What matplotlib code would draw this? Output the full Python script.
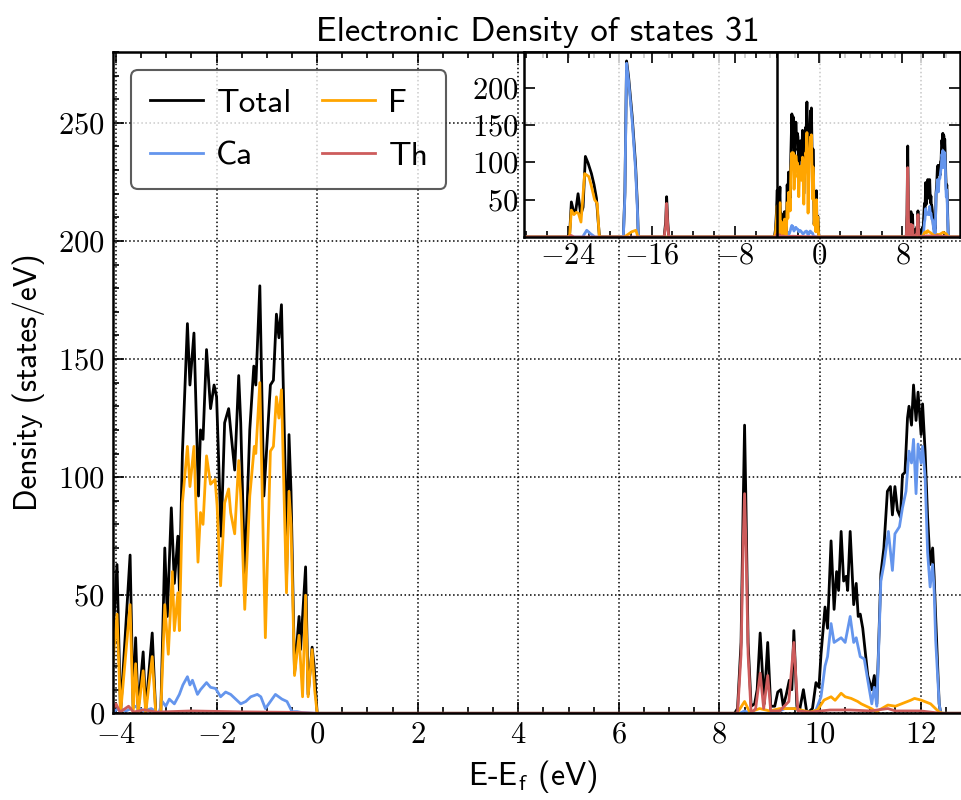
import numpy as np
import matplotlib
matplotlib.use("Agg")
import matplotlib.pyplot as plt
from matplotlib.ticker import MultipleLocator, AutoMinorLocator, FuncFormatter

plt.rcParams["font.family"] = ["cmss10", "DejaVu Sans"]
plt.rcParams["mathtext.fontset"] = "cm"
plt.rcParams["axes.formatter.use_mathtext"] = True

# energies (eV) and densities (states/eV)
e_total = [-28.2, -24.0, -23.83, -23.67, -23.42, -23.25, -23.03, -22.77, -22.55, -22.33, -22.07,
           -21.75, -21.5, -21.27, -21.1, -20.98, -18.7, -18.55, -18.39, -18.2, -17.85, -17.53,
           -17.35, -17.27, -14.8, -14.65, -14.56, -14.45, -14.35,
           -4.25, -4.15, -4.06, -3.98, -3.91, -3.72, -3.66, -3.61, -3.56, -3.46, -3.41, -3.28,
           -3.21, -3.11, -3.03, -2.98, -2.90, -2.84, -2.77, -2.74, -2.68, -2.58, -2.53, -2.45,
           -2.36, -2.32, -2.27, -2.20, -2.12, -2.05, -2.00, -1.91, -1.84, -1.76, -1.72, -1.64,
           -1.56, -1.52, -1.44, -1.34, -1.26, -1.22, -1.14, -1.06, -0.93, -0.87, -0.81, -0.76,
           -0.71, -0.63, -0.61, -0.56, -0.52, -0.45, -0.36, -0.33, -0.23, -0.18, -0.10, -0.06, 0.00,
           8.30, 8.36, 8.43, 8.47, 8.50, 8.53, 8.57, 8.63, 8.70, 8.75, 8.81, 8.89, 8.96, 9.02,
           9.10, 9.16, 9.22, 9.27, 9.33, 9.39, 9.44, 9.48, 9.54, 9.60, 9.67, 9.74, 9.85, 9.92,
           9.98, 10.02, 10.10, 10.15, 10.22, 10.28, 10.33, 10.37, 10.42, 10.47, 10.52, 10.55,
           10.60, 10.67, 10.72, 10.76, 10.80, 10.85, 10.95, 11.03, 11.08, 11.13, 11.21, 11.27,
           11.34, 11.40, 11.44, 11.49, 11.54, 11.60, 11.64, 11.69, 11.74, 11.77, 11.82, 11.86,
           11.91, 11.95, 12.01, 12.04, 12.09, 12.14, 12.19, 12.24, 12.27, 12.30, 12.37, 12.40, 13.5]
dos_total = [0, 0, 5, 47, 32, 35, 58, 30, 40, 108, 99,
             85, 70, 52, 20, 0, 0, 60, 236, 215, 161, 97,
             41, 0, 0, 20, 54, 20, 0,
             0, 10, 32, 63, 0, 67, 3, 32, 1, 26, 1, 34,
             0, 0, 70, 41, 87, 55, 75, 52, 110, 165, 139, 161,
             92, 120, 116, 154, 129, 139, 134, 75, 123, 129, 120, 103,
             143, 123, 58, 120, 147, 139, 181, 92, 139, 141, 169, 159,
             173, 97, 55, 118, 94, 17, 41, 27, 62, 8, 28, 20, 0,
             0, 2, 30, 85, 122, 85, 30, 3, 4, 10, 34, 4, 30, 3,
             3, 9, 10, 3, 8, 14, 10, 35, 3, 2, 10, 0, 2, 13,
             11, 25, 45, 36, 73, 44, 60, 52, 77, 56, 58, 52,
             77, 46, 55, 41, 42, 36, 16, 10, 16, 4, 59, 70,
             94, 96, 84, 96, 86, 83, 101, 102, 125, 130, 122, 139,
             124, 136, 118, 131, 111, 83, 63, 70, 58, 41, 4, 0, 0]

e_ca = [-28.2, -22.6, -22.2, -21.8, -21.4, -18.7, -18.55, -18.39, -18.2, -17.85, -17.53, -17.35,
        -17.27, -4.1, -3.95, -3.8, -3.6, -3.45, -3.3, -3.15, -3.08, -3.01, -2.94, -2.84, -2.74,
        -2.67, -2.58, -2.53, -2.48, -2.38, -2.32, -2.20, -2.12, -2.02, -1.92, -1.82, -1.72,
        -1.62, -1.52, -1.42, -1.32, -1.19, -1.12, -1.03, -0.93, -0.83, -0.70, -0.60, -0.50,
        -0.40, -0.30, 0.0, 8.4, 8.5, 8.6, 9.1, 9.3, 9.5, 9.7, 9.80, 9.92, 10.02, 10.10, 10.15,
        10.22, 10.28, 10.35, 10.42, 10.50, 10.60, 10.67, 10.72, 10.80, 10.88, 10.95, 11.03,
        11.08, 11.13, 11.21, 11.27, 11.36, 11.44, 11.49, 11.58, 11.64, 11.71, 11.77, 11.82,
        11.86, 11.91, 11.95, 12.01, 12.04, 12.09, 12.14, 12.19, 12.24, 12.27, 12.30, 12.37,
        12.40, 13.5]
dos_ca = [0, 0, 9, 4, 0, 0, 55, 233, 210, 155, 90, 35,
          0, 0, 2, 1, 3, 1, 2, 0, 5, 3, 6, 4, 8,
          12, 15.5, 12, 14, 8, 10, 13, 11, 10.5, 7, 9, 8,
          6, 4, 5, 7, 8, 7, 2, 5, 8, 6, 5, 0.7,
          0.7, 0.3, 0, 0, 1, 0, 0, 2, 2, 0.5, 0, 1.4, 7, 20, 24,
          38, 30, 31, 32, 30, 41, 30, 32, 24, 23, 14, 4,
          11, 3, 56, 63, 77, 60.5, 76, 79, 87, 94, 111, 106,
          116, 93, 114, 106, 113, 100, 68, 53.5, 63, 52, 31, 4,
          0, 0]

e_f = [-28.2, -23.9, -23.83, -23.67, -23.42, -23.2, -23.0, -22.75, -22.4, -22.0, -21.75,
       -21.45, -21.2, -21.0, -18.6, -18.3, -17.9, -17.5, -17.3,
       -4.25, -4.15, -4.08, -3.98, -3.91, -3.72, -3.66, -3.61, -3.56, -3.46, -3.41, -3.28,
       -3.21, -3.11, -3.03, -2.96, -2.88, -2.84, -2.77, -2.74, -2.68, -2.58, -2.53, -2.45,
       -2.37, -2.32, -2.27, -2.20, -2.12, -2.03, -1.99, -1.92, -1.84, -1.76, -1.72, -1.64,
       -1.56, -1.52, -1.44, -1.34, -1.25, -1.22, -1.14, -1.03, -0.93, -0.87, -0.81, -0.76,
       -0.71, -0.61, -0.56, -0.52, -0.45, -0.36, -0.29, -0.23, -0.18, -0.10, -0.05, 0.00,
       8.35, 8.50, 8.60, 8.8, 9.0, 9.2, 9.5, 9.8, 9.95, 10.08, 10.22, 10.30, 10.42, 10.50,
       10.62, 10.75, 10.82, 11.02, 11.12, 11.35, 11.50, 11.62, 11.80, 11.88, 12.01, 12.20,
       12.37, 12.45, 13.5]
dos_f = [0, 0, 3, 36, 30, 33, 32, 20, 85, 81, 68,
         50, 45, 0, 0, 3, 7, 9, 0,
         0, 5, 17, 42, 0, 46, 0, 21, 0, 18, 0, 24,
         0, 0, 46, 25, 60, 35, 51, 35, 89, 113, 96, 113,
         64, 85, 80, 109, 97, 99, 88, 54, 89, 95, 85, 76,
         107, 92, 44, 92, 113, 110, 140, 32, 111, 113, 134, 125,
         137, 51, 94, 80, 16, 33, 7, 50, 7, 27, 10, 0,
         0, 5, 0.5, 2, 1, 2, 2, 0.5, 1.4, 5.6, 7, 5.5, 8.5, 7,
         6.3, 5, 4, 2, 0.7, 3.5, 3, 4, 5.5, 6.3, 5.6, 4,
         0.5, 0, 0]

e_th = [-28.2, -23.9, -23.7, -23.4, -14.8, -14.65, -14.56, -14.45, -14.35,
        -4.1, -4.0, -3.92, -3.75, -3.65, -3.45, -3.2, -2.5, -1.5, -0.5, 0.0,
        8.30, 8.36, 8.43, 8.47, 8.50, 8.53, 8.57, 8.63, 8.72, 8.81, 8.88, 8.96, 9.02, 9.20,
        9.38, 9.48, 9.56, 9.80, 10.2, 10.6, 11.0, 11.35, 11.5, 12.0, 12.4, 13.5]
dos_th = [0, 0, 2, 0, 0, 15, 45, 15, 0,
          0, 4, 0.5, 3, 0.5, 1.5, 0.5, 1, 0.6, 0.4, 0,
          0, 0, 25, 70, 93, 70, 25, 0, 2, 17, 2, 16, 1, 1,
          5, 30, 1, 0.5, 1.4, 1.4, 1, 2, 1, 1, 0, 0]

series = [("Total", e_total, dos_total, "black"),
          ("Ca", e_ca, dos_ca, "cornflowerblue"),
          ("F", e_f, dos_f, "orange"),
          ("Th", e_th, dos_th, "indianred")]

def num_fmt(v, pos):
    return r"$%g$" % v

fig = plt.figure(figsize=(9.62, 8.0), dpi=100)
# main axes runs past the right edge of the picture, as in the cropped original
ax = fig.add_axes([113 / 962, 86.7 / 800, 883 / 962, 661.3 / 800])

for name, e, d, c in series:
    ax.plot(e, d, color=c, lw=2.0, label=name)

ax.set_xlim(-4.06, 13.5)
ax.set_ylim(0, 280)
ax.xaxis.set_major_locator(MultipleLocator(2))
ax.yaxis.set_major_locator(MultipleLocator(50))
ax.xaxis.set_minor_locator(AutoMinorLocator())
ax.yaxis.set_minor_locator(AutoMinorLocator())
ax.xaxis.set_major_formatter(FuncFormatter(num_fmt))
ax.yaxis.set_major_formatter(FuncFormatter(num_fmt))
ax.tick_params(which="both", direction="in", top=True, right=True, labelsize=22, width=1.2)
ax.tick_params(which="major", length=8, pad=6)
ax.tick_params(which="minor", length=4)
for sp in ax.spines.values():
    sp.set_linewidth(1.8)
ax.grid(True, which="major", color="black", linestyle=":", lw=1.1)

ax.set_xlabel(r"E-E$_\mathsf{f}$ (eV)", fontsize=23, labelpad=6)
ax.xaxis.set_label_coords((533 - 113) / 883, -0.068)
ax.set_ylabel("Density (states/eV)", fontsize=22.5, labelpad=9)
ax.set_title("Electronic Density of states 31", fontsize=25, pad=8, x=(538 - 113) / 883)

leg = ax.legend(loc="upper left", ncol=2, fontsize=24, frameon=True, fancybox=True,
                handlelength=1.6, handletextpad=0.4, columnspacing=0.9, borderaxespad=0.55,
                labelspacing=0.7, borderpad=0.55)
leg.get_frame().set_edgecolor("#333333")
leg.get_frame().set_linewidth(1.5)

# inset with the full energy range
ins = fig.add_axes([524 / 962, 563 / 800, 436 / 962, 185 / 800])
ins.patch.set_facecolor((1, 1, 1, 0.78))
for name, e, d, c in series:
    ins.plot(e, d, color=c, lw=2.0)
ins.axvline(-4.0, color="black", lw=1.8)
ins.set_xlim(-28.2, 13.5)
ins.set_ylim(0, 248)
ins.xaxis.set_major_locator(MultipleLocator(8))
ins.xaxis.set_minor_locator(AutoMinorLocator())
ins.set_yticks([50, 100, 150, 200])
ins.xaxis.set_major_formatter(FuncFormatter(num_fmt))
ins.yaxis.set_major_formatter(FuncFormatter(num_fmt))
ins.tick_params(which="both", direction="in", top=True, right=True, labelsize=22, width=1.2)
ins.tick_params(which="major", length=8, pad=4)
ins.tick_params(which="minor", length=4)
for sp in ins.spines.values():
    sp.set_linewidth(1.8)

fig.savefig("out.png", dpi=100)
